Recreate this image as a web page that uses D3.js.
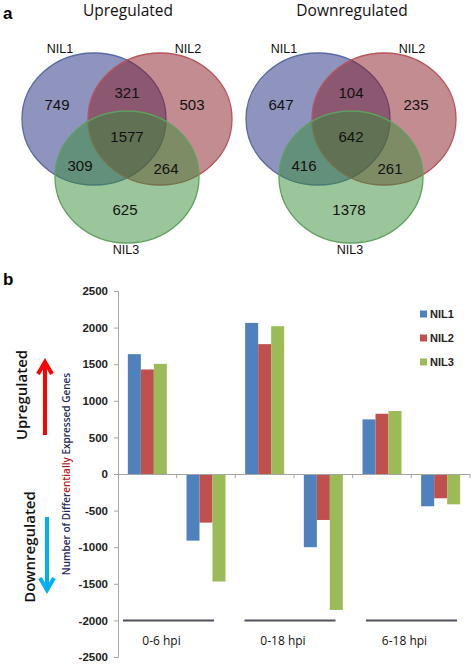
<!DOCTYPE html>
<html>
<head>
<meta charset="utf-8">
<script src="https://cdn.jsdelivr.net/npm/d3@7"></script>
<style>
  html, body { margin: 0; padding: 0; background: #fff; }
  svg { display: block; }
</style>
</head>
<body>
<svg id="chart" width="472" height="664"></svg>
<script>
// ---------- DATA ----------
const vennPanels = ["Upregulated", "Downregulated"];
const vennSets = ["NIL1", "NIL2", "NIL3"];
// region order: only1, only2, only3, 1&2, 1&3, 2&3, 1&2&3
const upCounts = [749, 503, 625, 321, 309, 264, 1577];
const downCounts = [647, 235, 1378, 104, 416, 261, 642];

const categories = ["0-6 up", "0-6 down", "0-18 up", "0-18 down", "6-18 up", "6-18 down"];
const series = ["NIL1", "NIL2", "NIL3"];
const nil1 = [1637, -910, 2064, -1000, 746, -441];
const nil2 = [1428, -664, 1774, -628, 823, -332];
const nil3 = [1505, -1469, 2019, -1857, 860, -414];
const yTicks = [2500, 2000, 1500, 1000, 500, 0, -500, -1000, -1500, -2000, -2500];
const groups = ["0-6 hpi", "0-18 hpi", "6-18 hpi"];

// ---------- SETUP ----------
const svg = d3.select("#chart");
const sans = "'Liberation Sans', Arial, sans-serif";
const title = "'Open Sans', 'Liberation Sans', sans-serif";

// panel labels
svg.append("text").attr("x", 3).attr("y", 19).text("a")
  .attr("font-family", sans).attr("font-weight", "bold").attr("font-size", 17);
svg.append("text").attr("x", 3).attr("y", 285).text("b")
  .attr("font-family", sans).attr("font-weight", "bold").attr("font-size", 17);

// ---------- VENN ----------
const panelX = d3.scaleOrdinal().domain(vennPanels).range([127, 351]);
const vennCY = 177;
const rx = 72, ry = 66;
const ellipseOffsets = [[-33, -58], [33, -58], [0, 0]];
const fills = ["rgb(30,42,125)", "rgb(135,25,35)", "rgb(55,140,55)"];
const strokes = ["#5a68a6", "#b5575d", "#5ea05e"];
const labelOffsets = [[-70, -72], [65, -72], [-2, 33], [0, -84], [-47, -11], [39, -8], [0, -40]];
const setLabelOffsets = [[-67, 48], [61, 48], [-1, 249]];

vennPanels.forEach((p, pi) => {
  const x0 = panelX(p);
  const counts = pi === 0 ? upCounts : downCounts;
  const g = svg.append("g");
  g.append("text").attr("x", x0 + 1).attr("y", 16).attr("text-anchor", "middle")
    .attr("font-family", title).attr("font-size", 15.5).attr("fill", "#111").text(p);
  g.selectAll("ellipse").data(vennSets).join("ellipse")
    .attr("cx", (d, i) => x0 + ellipseOffsets[i][0])
    .attr("cy", (d, i) => vennCY + ellipseOffsets[i][1])
    .attr("rx", rx).attr("ry", ry)
    .attr("fill", (d, i) => fills[i]).attr("fill-opacity", 0.5)
    .attr("stroke", (d, i) => strokes[i]).attr("stroke-width", 1.3);
  g.selectAll("text.cnt").data(counts).join("text").attr("class", "cnt")
    .attr("x", (d, i) => x0 + labelOffsets[i][0])
    .attr("y", (d, i) => vennCY + labelOffsets[i][1])
    .attr("dy", "0.36em").attr("text-anchor", "middle")
    .attr("font-family", sans).attr("font-size", 15).attr("fill", "#111")
    .text(d => d);
  g.selectAll("text.set").data(vennSets).join("text").attr("class", "set")
    .attr("x", (d, i) => x0 + setLabelOffsets[i][0])
    .attr("y", (d, i) => setLabelOffsets[i][1])
    .attr("dy", "0.36em").attr("text-anchor", "middle")
    .attr("font-family", sans).attr("font-size", 12.5).attr("fill", "#111")
    .text(d => d);
});

// ---------- BAR CHART ----------
const x = d3.scaleBand().domain(categories).range([118, 470]).paddingInner(0).paddingOuter(0);
const xInner = d3.scaleBand().domain(series).range([0, 39]);
const innerOffset = (x.bandwidth() - 39) / 2;
const y = d3.scaleLinear().domain([-2500, 2500]).range([657, 291]);
const colors = d3.scaleOrdinal().domain(series).range(["#4f81bd", "#c0504d", "#9bbb59"]);
const values = { NIL1: nil1, NIL2: nil2, NIL3: nil3 };

// bars
const barData = [];
categories.forEach((c, ci) => series.forEach(s => barData.push({ c, s, v: values[s][ci] })));
svg.append("g").selectAll("rect").data(barData).join("rect")
  .attr("x", d => x(d.c) + innerOffset + xInner(d.s))
  .attr("width", xInner.bandwidth())
  .attr("y", d => y(Math.max(0, d.v)))
  .attr("height", d => Math.abs(y(d.v) - y(0)))
  .attr("fill", d => colors(d.s));

// y axis
const yAxis = svg.append("g").attr("transform", "translate(118,0)")
  .call(d3.axisLeft(y).tickValues(yTicks).tickSize(4).tickPadding(6).tickFormat(d3.format("d")));
yAxis.select(".domain").attr("stroke", "#a6a6a6");
yAxis.selectAll(".tick line").attr("stroke", "#a6a6a6");
yAxis.selectAll(".tick text").attr("font-family", sans).attr("font-weight", "bold")
  .attr("font-size", 11.5).attr("fill", "#222").text(d => d === 0 ? "0" : d);

// zero-line category axis
const xAxis = svg.append("g").attr("transform", `translate(0,${y(0)})`)
  .call(d3.axisBottom(x).tickValues([]).tickSizeOuter(0));
xAxis.select(".domain").attr("stroke", "#a6a6a6");
svg.append("g").selectAll("line").data(categories).join("line")
  .attr("x1", d => x(d) + x.bandwidth()).attr("x2", d => x(d) + x.bandwidth())
  .attr("y1", y(0)).attr("y2", y(0) + 4).attr("stroke", "#a6a6a6");

// group separator lines and labels
const groupX = d3.scaleLinear().domain([0, 2]).range([168.5, 411.5]);
svg.append("g").selectAll("line").data(groups).join("line")
  .attr("x1", (d, i) => groupX(i) - 45.5).attr("x2", (d, i) => groupX(i) + 45.5)
  .attr("y1", y(-2000)).attr("y2", y(-2000))
  .attr("stroke", "#50505e").attr("stroke-width", 2);
svg.append("g").selectAll("text").data(groups).join("text")
  .attr("x", (d, i) => groupX(i) - 7).attr("y", y(-2000) + 20)
  .attr("dy", "0.36em").attr("text-anchor", "middle")
  .attr("font-family", title).attr("font-size", 12).attr("fill", "#111").text(d => d);

// legend
const leg = svg.append("g").selectAll("g").data(series).join("g")
  .attr("transform", (d, i) => `translate(420,${314 + i * 24})`);
leg.append("rect").attr("x", 0).attr("y", -3.5).attr("width", 7).attr("height", 7).attr("fill", d => colors(d));
leg.append("text").attr("x", 10).attr("y", 0).attr("dy", "0.36em").text(d => d)
  .attr("font-family", sans).attr("font-weight", "bold").attr("font-size", 11).attr("fill", "#222");

// y axis title
const yt = svg.append("text").attr("transform", "translate(70,474) rotate(-90)")
  .attr("text-anchor", "middle").attr("font-family", title).attr("font-weight", 600)
  .attr("font-size", 10).attr("fill", "#1f2a5a");
yt.append("tspan").text("Number of Differ");
yt.append("tspan").attr("fill", "#b02020").text("entially");
yt.append("tspan").text(" Expressed Genes");

// side annotations
svg.append("text").attr("transform", "translate(27,395) rotate(-90)")
  .attr("text-anchor", "middle").attr("font-family", title).attr("font-weight", 600)
  .attr("font-size", 15).attr("fill", "#111").text("Upregulated");
svg.append("text").attr("transform", "translate(35,547) rotate(-90)")
  .attr("text-anchor", "middle").attr("font-family", title).attr("font-weight", 600)
  .attr("font-size", 15).attr("fill", "#111").text("Downregulated");

function arrow(xc, yFrom, yTo, color) {
  const dir = Math.sign(yTo - yFrom);
  svg.append("line").attr("x1", xc).attr("x2", xc).attr("y1", yFrom).attr("y2", yTo - dir * 2)
    .attr("stroke", color).attr("stroke-width", 4);
  svg.append("path")
    .attr("d", `M${xc - 7},${yTo - dir * 12} L${xc},${yTo} L${xc + 7},${yTo - dir * 12}`)
    .attr("fill", "none").attr("stroke", color).attr("stroke-width", 4)
    .attr("stroke-linejoin", "miter");
}
arrow(45, 435, 362, "#ff0000");
arrow(47, 517, 590, "#00b0f0");
</script>
</body>
</html>
